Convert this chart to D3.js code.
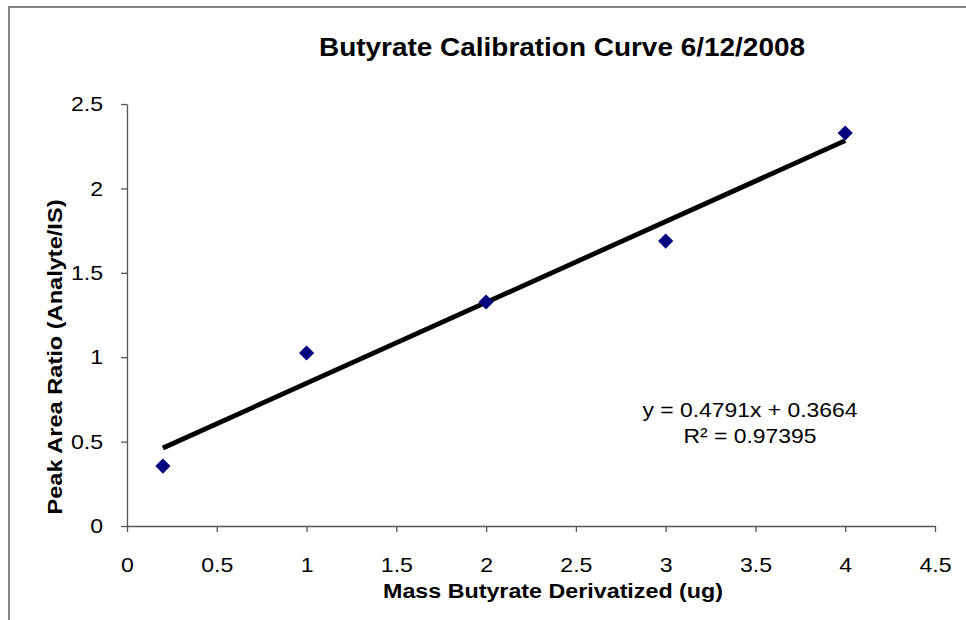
<!DOCTYPE html>
<html><head><meta charset="utf-8">
<script src="https://cdn.jsdelivr.net/npm/d3@7"></script>
<style>body{margin:0;background:#fff}svg{display:block}text{font-family:"Liberation Sans",Arial,sans-serif}</style>
</head><body><svg id="c" width="966" height="620"></svg>
<script>
const massUg = [0.2, 1, 2, 3, 4];
const peakRatio = [0.355, 1.025, 1.327, 1.688, 2.328];
const xTicks = [0, 0.5, 1, 1.5, 2, 2.5, 3, 3.5, 4, 4.5];
const yTicks = [0, 0.5, 1, 1.5, 2, 2.5];
const slope = 0.4791, intercept = 0.3664;
const eqLines = ["y = 0.4791x + 0.3664", "R² = 0.97395"];
const title = "Butyrate Calibration Curve 6/12/2008";
const xTitle = "Mass Butyrate Derivatized (ug)";
const yTitle = "Peak Area Ratio (Analyte/IS)";

const svg = d3.select("#c");
svg.append("rect").attr("x",9).attr("y",7).attr("width",980).attr("height",640)
  .attr("fill","#fff").attr("stroke","#858585").attr("stroke-width",2);

const x = d3.scaleLinear().domain([0,4.5]).range([127,935]);
const y = d3.scaleLinear().domain([0,2.5]).range([526,104]);

const fmt = d => String(d);
const xa = svg.append("g").attr("transform","translate(0,526)")
  .call(d3.axisBottom(x).tickValues(xTicks).tickFormat(fmt).tickSize(6).tickSizeOuter(0).tickPadding(25));
const ya = svg.append("g").attr("transform","translate(127,0)")
  .call(d3.axisLeft(y).tickValues(yTicks).tickFormat(fmt).tickSize(6).tickSizeOuter(0).tickPadding(18));
[xa,ya].forEach(g=>{
  g.selectAll("path,line").attr("stroke","#555").attr("stroke-width",1.3);
  g.selectAll("text").attr("font-size",21).attr("fill","#000")
    .attr("font-family","Liberation Sans, Arial, sans-serif")
    .each(function(){ const w=this.getComputedTextLength(); d3.select(this).attr("textLength",w*1.1).attr("lengthAdjust","spacingAndGlyphs"); });
});

// trend line
const xr = d3.extent(massUg);
svg.append("line")
  .attr("x1",x(xr[0])).attr("y1",y(slope*xr[0]+intercept))
  .attr("x2",x(xr[1])).attr("y2",y(slope*xr[1]+intercept))
  .attr("stroke","#000").attr("stroke-width",4.8);

// points
svg.append("g").selectAll("path").data(massUg).join("path")
  .attr("d",d3.symbol(d3.symbolSquare,115)())
  .attr("transform",(d,i)=>`translate(${x(d)},${y(peakRatio[i])}) rotate(45)`)
  .attr("fill","#000080");

svg.append("text").attr("x",562).attr("y",56).attr("text-anchor","middle")
  .attr("font-size",25).attr("font-weight","bold")
  .attr("textLength",486).attr("lengthAdjust","spacingAndGlyphs").text(title);
svg.append("text").attr("x",553).attr("y",598).attr("text-anchor","middle")
  .attr("font-size",20).attr("font-weight","bold")
  .attr("textLength",340).attr("lengthAdjust","spacingAndGlyphs").text(xTitle);
svg.append("text").attr("transform","translate(62,357) rotate(-90)").attr("text-anchor","middle")
  .attr("font-size",20).attr("font-weight","bold")
  .attr("textLength",315).attr("lengthAdjust","spacingAndGlyphs").text(yTitle);

const eqW = [215, 133];
svg.append("g").selectAll("text").data(eqLines).join("text")
  .attr("x",750).attr("y",(d,i)=>417+i*26).attr("text-anchor","middle")
  .attr("font-size",21).attr("textLength",(d,i)=>eqW[i]).attr("lengthAdjust","spacingAndGlyphs").text(d=>d);
</script></body></html>
